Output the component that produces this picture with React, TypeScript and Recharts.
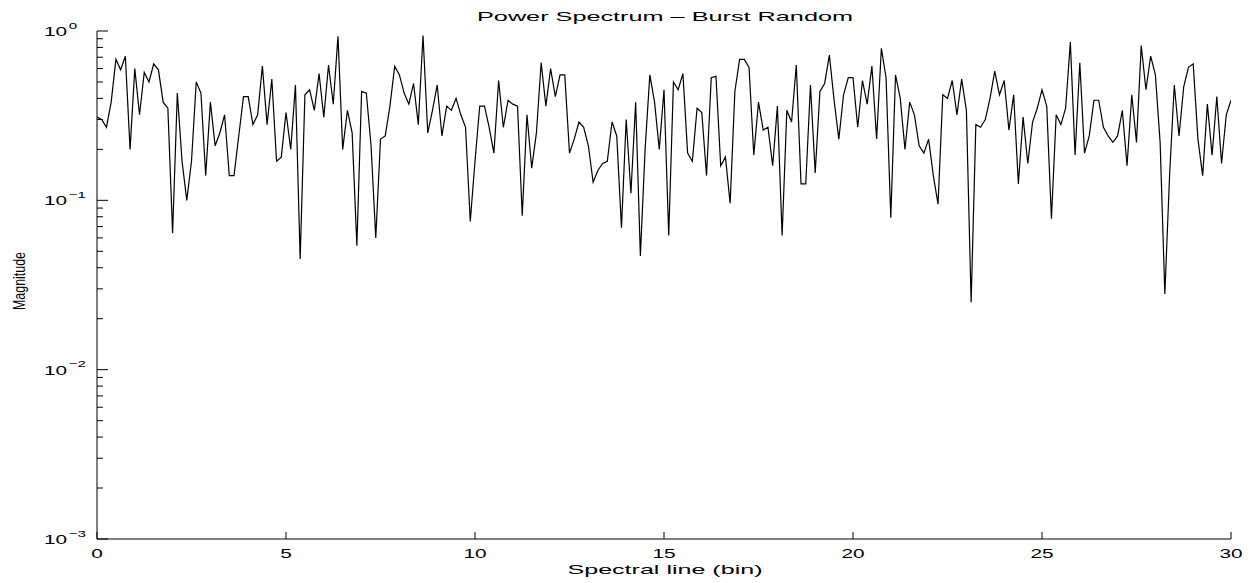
import { LineChart, Line, XAxis, YAxis } from 'recharts';

document.body.style.margin = '0';

// magnitude of each spectral line (bins 0 .. 30, step 1/8)
const magnitude = [
  0.31, 0.30, 0.27, 0.38, 0.68, 0.59, 0.71, 0.20, 0.60, 0.32,
  0.57, 0.50, 0.64, 0.59, 0.38, 0.35, 0.064, 0.43, 0.17, 0.10,
  0.17, 0.50, 0.43, 0.14, 0.38, 0.21, 0.25, 0.32, 0.14, 0.14,
  0.24, 0.41, 0.41, 0.28, 0.32, 0.62, 0.28, 0.52, 0.17, 0.18,
  0.33, 0.20, 0.48, 0.045, 0.42, 0.45, 0.34, 0.56, 0.31, 0.63,
  0.37, 0.93, 0.20, 0.34, 0.25, 0.054, 0.44, 0.43, 0.21, 0.060,
  0.23, 0.24, 0.36, 0.62, 0.55, 0.43, 0.37, 0.49, 0.28, 0.94,
  0.25, 0.34, 0.48, 0.24, 0.36, 0.34, 0.40, 0.32, 0.27, 0.075,
  0.17, 0.36, 0.36, 0.27, 0.19, 0.51, 0.27, 0.39, 0.37, 0.36,
  0.081, 0.32, 0.155, 0.25, 0.65, 0.36, 0.60, 0.41, 0.55, 0.55,
  0.19, 0.23, 0.29, 0.27, 0.21, 0.128, 0.15, 0.165, 0.17, 0.29,
  0.24, 0.069, 0.30, 0.11, 0.38, 0.047, 0.20, 0.55, 0.38, 0.20,
  0.45, 0.062, 0.50, 0.45, 0.56, 0.19, 0.17, 0.35, 0.33, 0.14,
  0.53, 0.54, 0.16, 0.18, 0.096, 0.44, 0.68, 0.68, 0.61, 0.185,
  0.38, 0.26, 0.27, 0.16, 0.36, 0.062, 0.34, 0.29, 0.63, 0.125,
  0.125, 0.48, 0.145, 0.44, 0.49, 0.72, 0.39, 0.23, 0.42, 0.53,
  0.53, 0.27, 0.51, 0.37, 0.62, 0.23, 0.79, 0.53, 0.079, 0.55,
  0.40, 0.20, 0.38, 0.32, 0.21, 0.19, 0.23, 0.14, 0.095, 0.42,
  0.40, 0.51, 0.32, 0.52, 0.34, 0.025, 0.28, 0.27, 0.30, 0.40,
  0.58, 0.42, 0.51, 0.26, 0.42, 0.125, 0.31, 0.165, 0.29, 0.35,
  0.45, 0.36, 0.078, 0.32, 0.28, 0.35, 0.86, 0.185, 0.65, 0.19,
  0.24, 0.39, 0.39, 0.27, 0.24, 0.22, 0.24, 0.34, 0.16, 0.42,
  0.22, 0.82, 0.45, 0.71, 0.55, 0.22, 0.028, 0.14, 0.48, 0.24,
  0.47, 0.61, 0.64, 0.23, 0.14, 0.37, 0.185, 0.41, 0.165, 0.32,
  0.39,
];
const binStep = 0.125;

const xTicks = [0, 5, 10, 15, 20, 25, 30];
const yMajorTicks = [0.001, 0.01, 0.1, 1];
const yMajorExponents = ['\u22123', '\u22122', '\u22121', '0'];
const yMinorTicks = [
  0.002, 0.003, 0.004, 0.005, 0.006, 0.007, 0.008, 0.009,
  0.02, 0.03, 0.04, 0.05, 0.06, 0.07, 0.08, 0.09,
  0.2, 0.3, 0.4, 0.5, 0.6, 0.7, 0.8, 0.9,
];
const yTicks = [...yMajorTicks, ...yMinorTicks].sort((a, b) => a - b);

const data = magnitude.map((m, i) => ({ bin: i * binStep, m }));

const FONT = '"Liberation Sans", Arial, Helvetica, sans-serif';

const BottomTick = ({ x, y, payload }: any) => (
  <g>
    <line x1={x} y1={y} x2={x} y2={y - 7} stroke="#000" />
    <text
      transform={`translate(${x},${y + 19}) scale(1.6,1)`}
      textAnchor="middle"
      fontSize={13}
      fontFamily={FONT}
      fill="#000"
    >
      {payload.value}
    </text>
  </g>
);

const TopTick = ({ x, y }: any) => (
  <line x1={x} y1={y} x2={x} y2={y + 7} stroke="#000" />
);

const LeftTick = ({ x, y, payload }: any) => {
  const idx = yMajorTicks.indexOf(payload.value);
  const major = idx >= 0;
  return (
    <g>
      <line x1={x} y1={y} x2={x + (major ? 11 : 6)} y2={y} stroke="#000" />
      {major && (
        <text
          transform={`translate(${x - 53},${y + 5}) scale(1.6,1)`}
          fontSize={13}
          fontFamily={FONT}
          fill="#000"
        >
          10
          <tspan dx={1} dy={-7.5} fontSize={9.5}>
            {yMajorExponents[idx]}
          </tspan>
        </text>
      )}
    </g>
  );
};

const RightTick = ({ x, y, payload }: any) => {
  const major = yMajorTicks.includes(payload.value);
  return <line x1={x} y1={y} x2={x - (major ? 11 : 6)} y2={y} stroke="#000" />;
};

export default function App() {
  return (
    <div style={{ position: 'relative', width: 1255, height: 583, background: '#fff' }}>
      <LineChart
        width={1255}
        height={583}
        data={data}
        margin={{ top: 31, right: 24, left: 0, bottom: 0 }}
      >
        <XAxis
          dataKey="bin"
          type="number"
          domain={[0, 30]}
          ticks={xTicks}
          interval={0}
          height={44}
          tickSize={0}
          tickMargin={0}
          tickLine={false}
          axisLine={{ stroke: '#000' }}
          tick={<BottomTick />}
          allowDataOverflow
        />
        <XAxis
          xAxisId="top"
          orientation="top"
          dataKey="bin"
          type="number"
          domain={[0, 30]}
          ticks={xTicks}
          interval={0}
          height={0}
          tickSize={0}
          tickMargin={0}
          tickLine={false}
          axisLine={{ stroke: '#000' }}
          tick={<TopTick />}
        />
        <YAxis
          type="number"
          scale="log"
          domain={[0.001, 1]}
          ticks={yTicks}
          interval={0}
          width={97}
          tickSize={0}
          tickMargin={0}
          tickLine={false}
          axisLine={{ stroke: '#000' }}
          tick={<LeftTick />}
          allowDataOverflow
        />
        <YAxis
          yAxisId="right"
          orientation="right"
          type="number"
          scale="log"
          domain={[0.001, 1]}
          ticks={yTicks}
          interval={0}
          width={0}
          tickSize={0}
          tickMargin={0}
          tickLine={false}
          axisLine={{ stroke: '#000' }}
          tick={<RightTick />}
          allowDataOverflow
        />
        <Line
          type="linear"
          dataKey="m"
          stroke="#000"
          strokeWidth={1.2}
          dot={false}
          isAnimationActive={false}
        />
      </LineChart>
      <svg
        width={1255}
        height={583}
        style={{ position: 'absolute', left: 0, top: 0, pointerEvents: 'none' }}
      >
        <text
          x={665}
          y={21}
          textAnchor="middle"
          fontSize={13}
          fontFamily={FONT}
          textLength={376}
          lengthAdjust="spacingAndGlyphs"
        >
          Power Spectrum – Burst Random
        </text>
        <text
          x={665}
          y={574}
          textAnchor="middle"
          fontSize={13}
          fontFamily={FONT}
          textLength={195}
          lengthAdjust="spacingAndGlyphs"
        >
          Spectral line (bin)
        </text>
        <text
          transform="translate(25,281) scale(1.3,1) rotate(-90)"
          textAnchor="middle"
          fontSize={12.5}
          fontFamily={FONT}
          textLength={58}
          lengthAdjust="spacingAndGlyphs"
        >
          Magnitude
        </text>
      </svg>
    </div>
  );
}
